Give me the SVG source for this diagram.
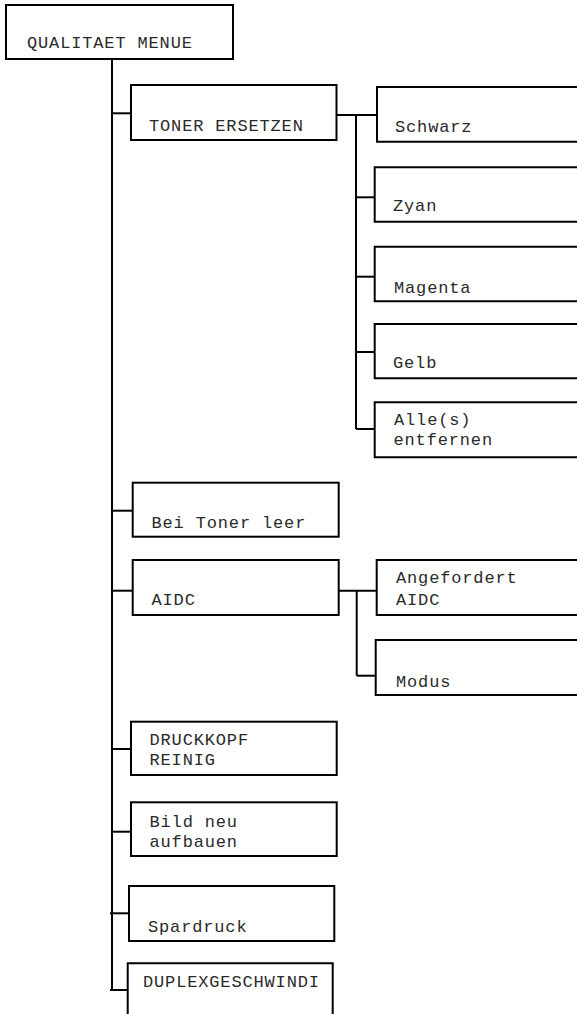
<svg xmlns="http://www.w3.org/2000/svg" width="577" height="1014" viewBox="0 0 577 1014">
  <style>
    .box { fill: #ffffff; stroke: #000000; stroke-width: 2; }
    .edge { fill: none; stroke: #000000; stroke-width: 2; }
    .lbl { font-family: "Liberation Mono", "Courier New", monospace; font-size: 17px; letter-spacing: 0.85px; fill: #2a2a2a; }
  </style>
  <rect width="577" height="1014" fill="#ffffff"/>

  <!-- connectors -->
  <g id="connectors">
    <!-- main spine -->
    <path class="edge" d="M112 59 V991"/>
    <path class="edge" d="M112 113.3 H131"/>
    <path class="edge" d="M112 510.7 H133"/>
    <path class="edge" d="M112 590.7 H133"/>
    <path class="edge" d="M112 749 H131"/>
    <path class="edge" d="M112 831.7 H131"/>
    <path class="edge" d="M110 913.3 H129"/>
    <path class="edge" d="M110 990 H128"/>
    <!-- toner branch -->
    <path class="edge" d="M336.5 115 H377"/>
    <path class="edge" d="M356 115 V429"/>
    <path class="edge" d="M356 197.3 H378"/>
    <path class="edge" d="M356 276.7 H375"/>
    <path class="edge" d="M356 352 H375"/>
    <path class="edge" d="M356 429 H378"/>
    <!-- AIDC branch -->
    <path class="edge" d="M338.5 590.7 H377"/>
    <path class="edge" d="M356.7 590.7 V675.7"/>
    <path class="edge" d="M356.7 675.7 H376"/>
  </g>

  <g id="qualitaet-menue">
    <rect class="box" x="6" y="5" width="227" height="54"/>
    <text class="lbl" x="27" y="48">QUALITAET MENUE</text>
  </g>

  <g id="toner-ersetzen">
    <rect class="box" x="131" y="85" width="205.5" height="55"/>
    <text class="lbl" x="149" y="130.5">TONER ERSETZEN</text>
  </g>

  <g id="schwarz">
    <path class="box" d="M590 87 H377 V141.7 H590"/>
    <text class="lbl" x="395" y="131.7">Schwarz</text>
  </g>

  <g id="zyan">
    <path class="box" d="M590 167.3 H374.7 V221.7 H590"/>
    <text class="lbl" x="393" y="210.7">Zyan</text>
  </g>

  <g id="magenta">
    <path class="box" d="M590 246.7 H374.7 V301.3 H590"/>
    <text class="lbl" x="394" y="292.7">Magenta</text>
  </g>

  <g id="gelb">
    <path class="box" d="M590 324 H374.7 V378.3 H590"/>
    <text class="lbl" x="393" y="368.3">Gelb</text>
  </g>

  <g id="alle-entfernen">
    <path class="box" d="M590 402.3 H374.7 V457.3 H590"/>
    <text class="lbl" x="394" y="425">Alle(s)</text>
    <text class="lbl" x="393.5" y="444.5">entfernen</text>
  </g>

  <g id="bei-toner-leer">
    <rect class="box" x="132.7" y="482.7" width="206" height="54"/>
    <text class="lbl" x="151.5" y="528.3">Bei Toner leer</text>
  </g>

  <g id="aidc">
    <rect class="box" x="132.7" y="560" width="206" height="55"/>
    <text class="lbl" x="151.5" y="605">AIDC</text>
  </g>

  <g id="angefordert-aidc">
    <path class="box" d="M590 560 H376.7 V615 H590"/>
    <text class="lbl" x="396" y="583.3">Angefordert</text>
    <text class="lbl" x="396" y="605">AIDC</text>
  </g>

  <g id="modus">
    <path class="box" d="M590 640 H375.7 V695 H590"/>
    <text class="lbl" x="396" y="686.7">Modus</text>
  </g>

  <g id="druckkopf-reinig">
    <rect class="box" x="131" y="721.7" width="205.7" height="53.3"/>
    <text class="lbl" x="149.5" y="745">DRUCKKOPF</text>
    <text class="lbl" x="149.5" y="765">REINIG</text>
  </g>

  <g id="bild-neu-aufbauen">
    <rect class="box" x="131" y="802.3" width="205.7" height="53.7"/>
    <text class="lbl" x="149.5" y="826.7">Bild neu</text>
    <text class="lbl" x="149.5" y="846.7">aufbauen</text>
  </g>

  <g id="spardruck">
    <rect class="box" x="129" y="886" width="205.3" height="55"/>
    <text class="lbl" x="148" y="931.7">Spardruck</text>
  </g>

  <g id="duplexgeschwindi">
    <path class="box" d="M127.7 1030 V963.3 H332.7 V1030"/>
    <text class="lbl" x="143" y="986.7">DUPLEXGESCHWINDI</text>
  </g>
</svg>
